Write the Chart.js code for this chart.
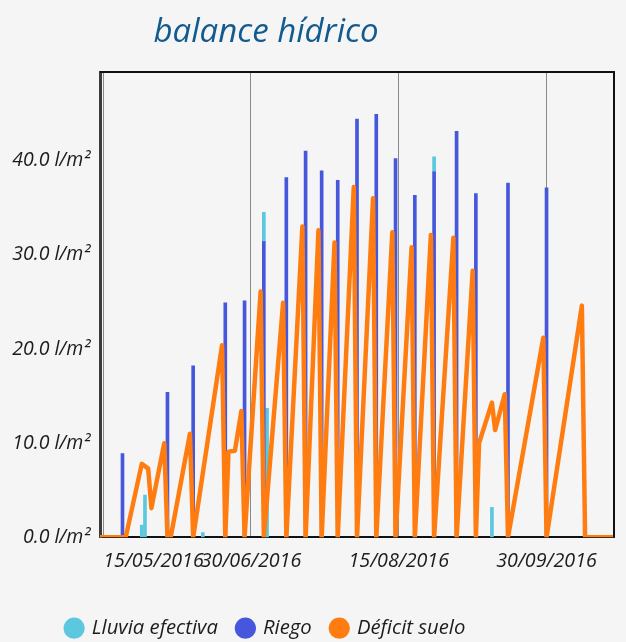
<!DOCTYPE html>
<html lang="es">
<head>
<meta charset="utf-8">
<title>balance hídrico</title>
<script src="https://cdn.jsdelivr.net/npm/chart.js@4.4.1/dist/chart.umd.min.js"></script>
<style>
  html, body { margin: 0; padding: 0; background: #f5f5f5; }
  #wrap { width: 626px; height: 642px; }
</style>
</head>
<body>
<div id="wrap"><canvas id="chart" width="626" height="642"></canvas></div>
<script>
// Daily water balance of the plot, l/m²
const lluviaDates  = ['2016-05-27', '2016-05-28', '2016-06-15', '2016-07-04', '2016-07-05', '2016-08-26', '2016-09-13'];
const lluviaValues = [1.3, 4.5, 0.5, 3.1, 13.7, 1.6, 3.2];

const riegoDates  = ['2016-05-21', '2016-06-04', '2016-06-12', '2016-06-22', '2016-06-28', '2016-07-04', '2016-07-11',
                     '2016-07-17', '2016-07-22', '2016-07-27', '2016-08-02', '2016-08-08', '2016-08-14', '2016-08-20',
                     '2016-08-26', '2016-09-02', '2016-09-08', '2016-09-18', '2016-09-30'];
const riegoValues = [8.9, 15.4, 18.2, 24.9, 25.1, 31.4, 38.2, 41.0, 38.9, 37.9, 44.4, 44.9, 40.2, 36.3,
                     38.8, 43.1, 36.5, 37.6, 37.1];

const deficitDates  = ['2016-05-14', '2016-05-22', '2016-05-27', '2016-05-29', '2016-05-30', '2016-06-03', '2016-06-04',
                       '2016-06-05', '2016-06-11', '2016-06-12', '2016-06-15', '2016-06-21', '2016-06-22', '2016-06-23',
                       '2016-06-25', '2016-06-27', '2016-06-28', '2016-07-03', '2016-07-04', '2016-07-10', '2016-07-11',
                       '2016-07-16', '2016-07-17', '2016-07-21', '2016-07-22', '2016-07-26', '2016-07-27', '2016-08-01',
                       '2016-08-02', '2016-08-07', '2016-08-08', '2016-08-13', '2016-08-14', '2016-08-19', '2016-08-20',
                       '2016-08-25', '2016-08-26', '2016-09-01', '2016-09-02', '2016-09-07', '2016-09-08', '2016-09-09',
                       '2016-09-13', '2016-09-14', '2016-09-17', '2016-09-18', '2016-09-29', '2016-09-30', '2016-10-11',
                       '2016-10-12', '2016-10-21'];
const deficitValues = [0, 0, 7.8, 7.3, 3.1, 10.0, 0,
                       0, 11.0, 0, 6.8, 20.4, 0, 9.1,
                       9.2, 13.4, 0, 26.1, 0, 24.9, 0,
                       33.0, 0, 32.6, 0, 31.3, 0, 37.2,
                       0, 36.0, 0, 32.4, 0, 30.8, 0,
                       32.1, 0, 31.8, 0, 28.3, 0, 10.0,
                       14.3, 11.4, 15.2, 0, 21.2, 0, 24.6,
                       0, 0];

const xTickDates = ['2016-05-15', '2016-06-30', '2016-08-15', '2016-09-30'];
const yTickValues = [0, 10, 20, 30, 40];
const rangeStart = '2016-05-14';
const rangeEnd = '2016-10-21';
const yMax = 49.4;

// Dates are placed on a linear day axis counted from rangeStart
const DAY_MS = 86400000;
const [oy, om, od] = rangeStart.split('-').map(Number);
const origin = Date.UTC(oy, om - 1, od);
function dayOf(iso) {
  const [y, m, d] = iso.split('-').map(Number);
  return Math.round((Date.UTC(y, m - 1, d) - origin) / DAY_MS);
}
function dateLabel(day) {
  const t = new Date(origin + day * DAY_MS);
  const p = n => String(n).padStart(2, '0');
  return p(t.getUTCDate()) + '/' + p(t.getUTCMonth() + 1) + '/' + t.getUTCFullYear();
}
const points = (dates, values) => dates.map((d, i) => ({ x: dayOf(d), y: values[i] }));

const endDay = dayOf(rangeEnd);
const FONT = "'Open Sans', 'Noto Sans', sans-serif";
const TEXT = '#1c1c1c';

// Plot frame (top and right edges) drawn over the data
const framePlugin = {
  id: 'frame',
  afterDraw(chart) {
    const { ctx, chartArea: a } = chart;
    ctx.save();
    ctx.strokeStyle = '#111';
    ctx.lineWidth = 2;
    ctx.beginPath();
    ctx.moveTo(a.left, a.top);
    ctx.lineTo(a.right, a.top);
    ctx.lineTo(a.right, a.bottom);
    ctx.stroke();
    ctx.restore();
  }
};

// Title and legend share a common centre line; legend sits lower
const headerPlugin = {
  id: 'header',
  afterLayout(chart) {
    const centre = 266;
    [chart.titleBlock, chart.legend].forEach(box => {
      const w = 532;
      box.left = centre - w / 2;
      box.right = centre + w / 2;
      box.width = w;
    });
    const lg = chart.legend;
    const shift = 13;
    lg.top += shift;
    lg.bottom += shift;
  }
};

new Chart(document.getElementById('chart'), {
  type: 'line',
  data: {
    datasets: [
      {
        type: 'bar',
        label: 'Lluvia efectiva',
        data: points(lluviaDates, lluviaValues),
        backgroundColor: '#5bc8df',
        borderWidth: 0,
        barThickness: 3,
        stack: 'agua',
        order: 2
      },
      {
        type: 'bar',
        label: 'Riego',
        data: points(riegoDates, riegoValues),
        backgroundColor: '#4657dc',
        borderWidth: 0,
        barThickness: 3,
        stack: 'agua',
        order: 1
      },
      {
        type: 'line',
        label: 'Déficit suelo',
        data: points(deficitDates, deficitValues),
        borderColor: '#ff7d10',
        backgroundColor: '#ff7d10',
        borderWidth: 4.5,
        borderJoinStyle: 'round',
        borderCapStyle: 'round',
        pointRadius: 0,
        pointHoverRadius: 0,
        tension: 0,
        fill: false,
        order: 0
      }
    ]
  },
  options: {
    responsive: false,
    animation: false,
    events: [],
    layout: { padding: { left: 0, right: 12, top: 0, bottom: 6.7 } },
    scales: {
      x: {
        type: 'linear',
        min: dayOf(rangeStart),
        max: endDay,
        offset: false,
        afterBuildTicks(scale) {
          scale.ticks = xTickDates.map(d => ({ value: dayOf(d) })).concat([{ value: endDay }]);
        },
        ticks: {
          autoSkip: false,
          maxRotation: 0,
          align: 'inner',
          padding: 12,
          color: TEXT,
          font: { family: FONT, size: 19.7, style: 'italic' },
          callback: v => (v === endDay ? '' : dateLabel(v))
        },
        grid: {
          offset: false,
          drawTicks: false,
          lineWidth: 1,
          color: ctx => (ctx.tick && ctx.tick.value === endDay ? 'rgba(0,0,0,0)' : '#8a8a8a')
        },
        border: { display: true, color: '#111', width: 2 }
      },
      y: {
        min: 0,
        max: yMax,
        afterBuildTicks(scale) {
          scale.ticks = yTickValues.map(v => ({ value: v }));
        },
        afterFit(scale) { scale.width = 100; },
        ticks: {
          padding: 10,
          color: TEXT,
          font: { family: FONT, size: 19.5, style: 'italic' },
          callback: v => v.toFixed(1) + ' l/m²'
        },
        grid: { display: false, drawTicks: false },
        border: { display: true, color: '#3c3c3c', width: 3 }
      }
    },
    plugins: {
      tooltip: { enabled: false },
      title: {
        display: true,
        text: 'balance hídrico',
        color: '#135a8e',
        font: { family: FONT, size: 33, style: 'italic', weight: 'normal', lineHeight: 1.2 },
        padding: { top: 13, bottom: 19.4 }
      },
      legend: {
        position: 'bottom',
        labels: {
          usePointStyle: true,
          boxWidth: 15,
          boxHeight: 15,
          padding: 20,
          color: TEXT,
          font: { family: FONT, size: 20.3, style: 'italic' },
          generateLabels(chart) {
            return Chart.defaults.plugins.legend.labels.generateLabels(chart)
              .map(item => Object.assign(item, { lineWidth: 0, pointStyle: 'circle' }))
              .sort((a, b) => a.datasetIndex - b.datasetIndex);
          }
        }
      }
    }
  },
  plugins: [framePlugin, headerPlugin]
});
</script>
</body>
</html>
